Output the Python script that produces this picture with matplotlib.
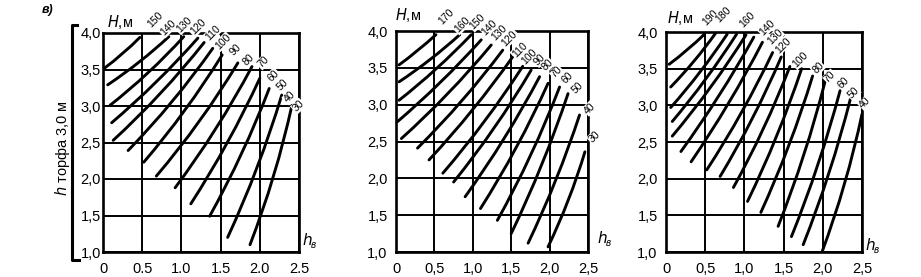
import matplotlib
matplotlib.use('Agg')
from matplotlib import pyplot as plt
from matplotlib.lines import Line2D
from matplotlib.path import Path
from matplotlib.patches import PathPatch

plt.rcParams['font.family'] = ['Liberation Sans', 'DejaVu Sans']

W, H = 921, 277

x_ticks = [0, 0.5, 1.0, 1.5, 2.0, 2.5]
y_ticks = [1.0, 1.5, 2.0, 2.5, 3.0, 3.5, 4.0]
x_labels_dot = ['0', '0.5', '1.0', '1.5', '2.0', '2.5']
x_labels_comma = ['0', '0,5', '1,0', '1,5', '2,0', '2,5']
y_labels = ['1,0', '1,5', '2,0', '2,5', '3,0', '3,5', '4,0']

# panel a: curves H = 150 ... 30 (start, bend, end points)
h_a = [150, 140, 130, 120, 110, 100, 90, 80, 70, 60, 50, 40, 30]
xs_a = [0.02, 0.06, 0.09, 0.11, 0.13, 0.32, 0.52, 0.68, 0.92, 1.12, 1.36, 1.59, 1.875]
ys_a = [3.52, 3.29, 3.01, 2.77, 2.53, 2.39, 2.23, 2.04, 1.88, 1.66, 1.49, 1.20, 1.10]
xm_a = [0.26, 0.48, 0.60, 0.70, 0.76, 0.91, 1.07, 1.26, 1.47, 1.62, 1.80, 2.00, 2.21]
ym_a = [3.71, 3.59, 3.44, 3.31, 3.15, 3.04, 2.92, 2.77, 2.67, 2.49, 2.34, 2.15, 2.03]
xe_a = [0.47, 0.84, 1.03, 1.21, 1.29, 1.40, 1.52, 1.72, 1.90, 2.00, 2.12, 2.28, 2.41]
ye_a = [3.94, 3.95, 3.95, 3.93, 3.87, 3.79, 3.70, 3.59, 3.54, 3.38, 3.24, 3.15, 3.01]
lab_a = ['150', '140', '130', '120', '110', '100', '90', '80', '70', '60', '50', '40', '30']
lx_a = [0.67, 0.83, 1.03, 1.21, 1.40, 1.53, 1.69, 1.85, 2.04, 2.17, 2.29, 2.38, 2.49]
ly_a = [4.18, 4.07, 4.11, 4.08, 4.00, 3.88, 3.77, 3.64, 3.60, 3.42, 3.29, 3.12, 3.00]

# panel b: curves H = 170 ... 30
h_b = [170, 160, 150, 140, 130, 120, 110, 100, 90, 80, 70, 60, 50, 40, 30]
xs_b = [0.04, 0.04, 0.04, 0.02, 0.07, 0.28, 0.43, 0.61, 0.75, 0.90, 1.10, 1.32, 1.50, 1.72, 1.98]
ys_b = [3.54, 3.31, 3.06, 2.77, 2.54, 2.41, 2.25, 2.07, 1.95, 1.75, 1.59, 1.43, 1.25, 1.12, 1.07]
xm_b = [0.29, 0.46, 0.54, 0.60, 0.70, 0.88, 1.02, 1.18, 1.31, 1.44, 1.60, 1.79, 1.93, 2.11, 2.27]
ym_b = [3.73, 3.60, 3.47, 3.29, 3.13, 3.03, 2.91, 2.76, 2.67, 2.53, 2.41, 2.31, 2.18, 1.97, 1.70]
xe_b = [0.52, 0.83, 0.98, 1.11, 1.24, 1.39, 1.52, 1.65, 1.76, 1.87, 1.98, 2.13, 2.24, 2.39, 2.46]
ye_b = [3.95, 3.95, 3.95, 3.88, 3.81, 3.74, 3.65, 3.52, 3.47, 3.38, 3.29, 3.24, 3.15, 2.86, 2.36]
lab_b = ['170', '160', '150', '140', '130', '120', '110', '100', '90', '80', '70', '60', '50', '40', '30']
lx_b = [0.66, 0.86, 1.06, 1.22, 1.35, 1.48, 1.61, 1.74, 1.87, 1.97, 2.09, 2.23, 2.36, 2.52, 2.58]
ly_b = [4.19, 4.08, 4.12, 4.05, 3.97, 3.90, 3.74, 3.65, 3.61, 3.54, 3.44, 3.36, 3.23, 2.95, 2.56]

# panel c: curves H = 190 ... 40, only some labelled
h_c = [190, 180, 170, 160, 150, 140, 130, 120, 110, 100, 90, 80, 70, 60, 50, 40]
xs_c = [0.04, 0.06, 0.06, 0.08, 0.08, 0.19, 0.32, 0.52, 0.69, 0.86, 1.04, 1.21, 1.43, 1.60, 1.75, 1.99]
ys_c = [3.56, 3.25, 2.97, 2.78, 2.58, 2.37, 2.23, 2.12, 2.03, 1.88, 1.69, 1.54, 1.35, 1.21, 1.10, 1.00]
xm_c = [0.28, 0.37, 0.45, 0.53, 0.60, 0.70, 0.82, 0.99, 1.13, 1.27, 1.44, 1.60, 1.79, 1.97, 2.11, 2.31]
ym_c = [3.75, 3.59, 3.44, 3.35, 3.24, 3.12, 3.01, 2.89, 2.81, 2.67, 2.57, 2.45, 2.32, 2.19, 2.07, 1.92]
xe_c = [0.49, 0.63, 0.78, 0.90, 1.02, 1.12, 1.23, 1.36, 1.47, 1.58, 1.73, 1.87, 2.03, 2.22, 2.35, 2.50]
ye_c = [3.97, 3.98, 3.97, 3.97, 3.96, 3.93, 3.86, 3.72, 3.66, 3.53, 3.50, 3.40, 3.33, 3.20, 3.08, 2.88]
lab_c = ['190', '180', '160', '140', '130', '120', '100', '80', '70', '60', '50', '40']
lx_c = [0.56, 0.73, 1.03, 1.29, 1.39, 1.49, 1.71, 1.94, 2.09, 2.26, 2.39, 2.54]
ly_c = [4.19, 4.23, 4.17, 4.06, 3.93, 3.82, 3.62, 3.51, 3.39, 3.31, 3.17, 3.03]


def px(x, y):
    # pixel position -> figure fraction
    return x / W, 1 - y / H


fig = plt.figure(figsize=(W / 100, H / 100), dpi=100)

panels = [
    ([103, 33, 196, 219], xs_a, ys_a, xm_a, ym_a, xe_a, ye_a, lab_a, lx_a, ly_a, x_labels_dot, 1.5),
    ([396, 31, 192, 221], xs_b, ys_b, xm_b, ym_b, xe_b, ye_b, lab_b, lx_b, ly_b, x_labels_comma, 6),
    ([666, 32, 196, 220], xs_c, ys_c, xm_c, ym_c, xe_c, ye_c, lab_c, lx_c, ly_c, x_labels_comma, 6),
]

for rect, xs, ys, xm, ym, xe, ye, labs, lx, ly, xl, ypad in panels:
    left, top, w, h = rect
    ax = fig.add_axes([left / W, 1 - (top + h) / H, w / W, h / H])
    ax.set_xlim(0, 2.5)
    ax.set_ylim(1, 4)
    ax.set_xticks(x_ticks)
    ax.set_xticklabels(xl)
    ax.set_yticks(y_ticks)
    ax.set_yticklabels(y_labels)
    ax.tick_params(length=0, labelsize=10.5, colors='black')
    ax.tick_params(axis='x', pad=7)
    ax.tick_params(axis='y', pad=ypad)
    ax.grid(True, color='black', lw=1.4)
    ax.set_axisbelow(True)
    for s in ax.spines.values():
        s.set_linewidth(1.9)
    for i in range(len(xs)):
        # gently bent curve: start, bend (control) point, end
        path = Path([(xs[i], ys[i]), (xm[i], ym[i]), (xe[i], ye[i])],
                    [Path.MOVETO, Path.CURVE3, Path.CURVE3])
        ax.add_patch(PathPatch(path, fill=False, edgecolor='black', lw=2.1,
                               capstyle='round', zorder=3))
    for t, x, y in zip(labs, lx, ly):
        ax.text(x, y, t, rotation=45, fontsize=7.5, ha='center', va='center',
                clip_on=False, zorder=5,
                bbox=dict(facecolor='white', edgecolor='none', pad=0.4))

# headings and axis names
fig.text(*px(48, 10), 'в)', fontsize=9, style='italic', weight='bold', ha='center', va='center')
fig.text(*px(62, 148), r'$h$ торфа 3,0 м', rotation=90, fontsize=10.5, ha='center', va='center')
fig.add_artist(Line2D([77 / W, 72 / W, 72 / W, 79 / W],
                      [1 - 25 / H, 1 - 25 / H, 1 - 260 / H, 1 - 260 / H],
                      color='black', lw=2.2))

for x, y in [(107, 22), (395, 15), (667, 18)]:
    fig.text(*px(x, y), r'$H$,м', fontsize=10.5, ha='left', va='center')

for x, y in [(302, 240), (597, 238), (865, 245)]:
    fig.text(*px(x, y), r'$h$', fontsize=11, ha='left', va='center')
    fig.text(*px(x + 9, y + 5), 'в', fontsize=7, style='italic', ha='left', va='center')

fig.savefig('out.png', dpi=100, facecolor='white')
